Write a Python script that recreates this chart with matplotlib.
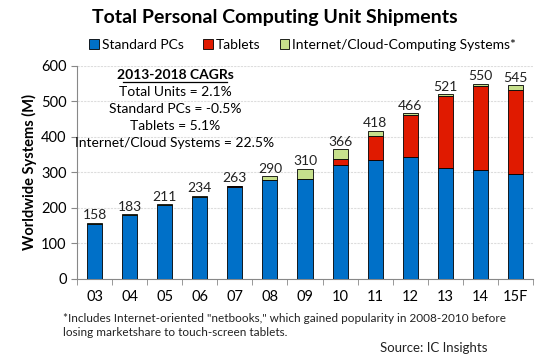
import matplotlib
matplotlib.use("Agg")
import matplotlib.pyplot as plt
import numpy as np

years = ["03", "04", "05", "06", "07", "08", "09", "10", "11", "12", "13", "14", "15F"]
pcs = [155, 180, 208, 231, 260, 278, 281, 320, 336, 343, 312, 306, 295]
tablets = [1, 1, 1, 1, 1, 1, 1, 18, 66, 118, 203, 236, 238]
cloud = [2, 2, 2, 2, 2, 11, 28, 28, 16, 5, 6, 8, 12]
totals = [158, 183, 211, 234, 263, 290, 310, 366, 418, 466, 521, 550, 545]
cagr_lines = ["Total Units = 2.1%", "Standard PCs = -0.5%", "Tablets = 5.1%",
              "Internet/Cloud Systems = 22.5%"]

plt.rcParams['font.family'] = ['Lato', 'DejaVu Sans']

fig = plt.figure(figsize=(5.5, 3.6), dpi=100)
ax = fig.add_axes([0.14, 0.225, 0.829, 0.592])

x = np.arange(len(years))
w = 0.43
blue = "#0070C8"
red = "#E01A00"
green = "#C6E08C"
b1 = ax.bar(x, pcs, w, color=blue, edgecolor="black", linewidth=0.6, label="Standard PCs", zorder=3)
b2 = ax.bar(x, tablets, w, bottom=pcs, color=red, edgecolor="black", linewidth=0.6, label="Tablets", zorder=3)
bot = np.array(pcs) + np.array(tablets)
b3 = ax.bar(x, cloud, w, bottom=bot, color=green, edgecolor="black", linewidth=0.6,
            label="Internet/Cloud-Computing Systems*", zorder=3)

for xi, t in zip(x, totals):
    top = pcs[xi] + tablets[xi] + cloud[xi]
    ax.text(xi, top + 4, str(t), ha="center", va="bottom", fontsize=10, color="#222222")

ax.set_xlim(-0.5, len(years) - 0.5)
ax.set_ylim(0, 600)
ax.set_yticks(range(0, 601, 100))
ax.set_xticks(x)
ax.set_xticklabels(years, fontsize=10.5)
ax.tick_params(axis='y', labelsize=10.5, length=4, color="#888888")
ax.tick_params(axis='x', length=0, pad=8)
ax.set_xticks(np.arange(-0.5, len(years), 1), minor=True)
ax.tick_params(axis='x', which='minor', length=4, color="#888888")
ax.yaxis.grid(True, color="#dddddd", linewidth=0.8, linestyle=(0, (2, 1)), zorder=0)
for s in ["top", "right"]:
    ax.spines[s].set_visible(False)
ax.spines["left"].set_color("#888888")
ax.spines["bottom"].set_color("#888888")
ax.set_ylabel("Worldwide Systems (M)", fontsize=10.5, fontweight="bold", labelpad=3)

fig.text(0.5, 0.95, "Total Personal Computing Unit Shipments", ha="center", va="center",
         fontsize=14, fontweight="bold")
fig.legend(handles=[b1, b2, b3], loc="center", bbox_to_anchor=(0.55, 0.875), ncol=3,
           frameon=False, fontsize=10, handlelength=0.7, handleheight=0.7,
           handletextpad=0.2, columnspacing=1.4, borderpad=0)

cx = 175 / 550
fig.text(cx, 1 - 75 / 360, "2013-2018 CAGRs", ha="center", va="center",
         fontsize=10, fontweight="bold")
fig.add_artist(plt.Line2D([123 / 550, 227 / 550], [1 - 82 / 360, 1 - 82 / 360],
                          color="black", linewidth=0.9))
for i, line in enumerate(cagr_lines):
    fig.text(cx, 1 - (92 + 17 * i) / 360, line, ha="center", va="center", fontsize=10)

fig.text(63 / 550, 1 - 318 / 360,
         "*Includes Internet-oriented \"netbooks,\" which gained popularity in 2008-2010 before",
         ha="left", va="center", fontsize=8.5, color="#222222")
fig.text(63 / 550, 1 - 333 / 360, "losing marketshare to touch-screen tablets.",
         ha="left", va="center", fontsize=8.5, color="#222222")
fig.text(487 / 550, 1 - 348 / 360, "Source: IC Insights", ha="right", va="center",
         fontsize=9.5, color="#222222")

fig.savefig("out.png", dpi=100)
